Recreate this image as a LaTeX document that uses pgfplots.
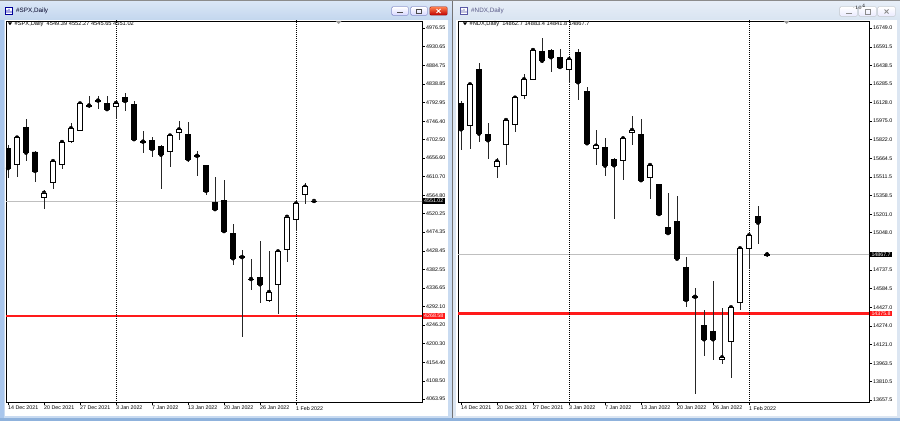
\documentclass[border=0pt]{standalone}
\usepackage{pgfplots}
\pgfplotsset{compat=1.18}
\usepackage{pgfplotstable}
\usepackage{fontspec}
\setmainfont{Liberation Sans}

\definecolor{winL}{HTML}{C9DBF1}
\definecolor{winR}{HTML}{DCE6F2}
\definecolor{titL1}{HTML}{DCE8F7}
\definecolor{titL2}{HTML}{C3D6EE}
\definecolor{titR1}{HTML}{E8EFF8}
\definecolor{titR2}{HTML}{D9E4F1}
\definecolor{edgeL}{HTML}{A9C6EC}
\definecolor{botband}{HTML}{8FB2DC}
\definecolor{mtred}{RGB}{255,26,26}

\newcommand\tk{\fontsize{5.3}{6}\selectfont}
\newcommand\hd{\fontsize{5.7}{6.5}\selectfont}
\newcommand\ttl{\fontsize{6.3}{7}\selectfont}

% SPX daily: bar index, open, high, low, close
\pgfplotstableread{
i o h l c
0 4681 4689 4608 4632
1 4641 4709 4609 4707
2 4732 4752 4650 4670
3 4672 4675 4598 4625
4 4560 4578 4531 4571
5 4597 4652 4580 4649
6 4641 4698 4630 4696
7 4699 4742 4693 4730
8 4724 4795 4723 4791
9 4784 4809 4779 4786
10 4797 4809 4777 4798
11 4792 4809 4775 4777
12 4785 4793 4752 4792
13 4806 4817 4773 4797
14 4788 4798 4702 4703
15 4696 4724 4668 4697
16 4700 4709 4660 4679
17 4686 4688 4580 4665
18 4673 4713 4634 4712
19 4720 4748 4701 4727
20 4715 4745 4648 4654
21 4663 4675 4612 4662
22 4639 4640 4566 4576
23 4548 4611 4530 4531
24 4552 4603 4476 4477
25 4471 4494 4393 4410
26 4414 4430 4217 4413
27 4358 4408 4332 4359
28 4363 4452 4301 4346
29 4306 4427 4303 4327
30 4347 4428 4272 4427
31 4432 4514 4402 4512
32 4506 4553 4478 4545
33 4567 4595 4544 4586
34 4549.39 4552.27 4545.65 4551.02
}\spx

% NDX daily
\pgfplotstableread{
i o h l c
0 16123 16142 15735 15907
1 15943 16294 15741 16281
2 16406 16461 15799 15871
3 15866 15957 15658 15816
4 15596 15666 15500 15641
5 15783 15990 15611 15984
6 15951 16178 15887 16170
7 16190 16364 16157 16323
8 16323 16572 16317 16566
9 16555 16663 16456 16477
10 16564 16572 16386 16506
11 16506 16575 16414 16425
12 16406 16506 16294 16489
13 16544 16572 16151 16298
14 16225 16261 15790 15791
15 15749 15901 15611 15771
16 15760 15832 15519 15605
17 15658 15669 15159 15608
18 15650 15843 15486 15832
19 15882 16018 15773 15901
20 15868 15990 15469 15484
21 15508 15611 15325 15610
22 15451 15452 15187 15203
23 15095 15380 15044 15045
24 15145 15353 14827 14832
25 14760 14843 14433 14489
26 14517 14586 13707 14515
27 14275 14405 14023 14162
28 14225 14646 13990 14162
29 13996 14420 13957 14012
30 14142 14429 13838 14428
31 14472 14919 14405 14918
32 14915 15027 14744 15026
33 15181 15270 14951 15131
34 14862.7 14883.4 14841.8 14867.7
}\ndx

\pgfplotsset{
  mtframe/.style={
    anchor=south west, scale only axis, height=381pt,
    enlargelimits=false, clip=true,
    axis line style={black, line width=0.6pt},
    tick align=outside, major tick length=3pt,
    tick style={black, line width=0.5pt},
    xtick pos=left, ytick pos=right, yticklabel pos=right,
    xtick={0,4,...,32},
    xticklabels={14 Dec 2021,20 Dec 2021,27 Dec 2021,3 Jan 2022,7 Jan 2022,13 Jan 2022,20 Jan 2022,26 Jan 2022,1 Feb 2022},
    xticklabel style={font=\tk, anchor=north west, inner sep=0.5pt, xshift=-0.5pt, yshift=-0.5pt},
    yticklabel style={font=\tk, inner sep=1pt},
  },
  mtbody/.style={
    anchor=south west, scale only axis, height=381pt,
    enlargelimits=false, hide axis, ybar stacked, bar width=5pt,
  },
  wick/.style={only marks, mark=none,
    error bars/.cd, y dir=both, y explicit, error mark=none,
    error bar style={black!85, line width=0.6pt}},
  sep/.style={draw=black, line width=0.5pt, dash pattern=on 1pt off 1pt},
  lvl/.style={draw=mtred, line width=2.4pt},
}

\begin{document}
\begin{tikzpicture}[x=1pt,y=1pt]
\useasboundingbox (0,0) rectangle (900,421);

% window chrome
\fill[winR] (0,0) rectangle (900,421);
\fill[winL] (0,0) rectangle (452,421);
\shade[top color=titL1, bottom color=titL2] (0,401) rectangle (452,421);
\shade[top color=titR1, bottom color=titR2] (453,401) rectangle (900,421);
\fill[edgeL] (0,0) rectangle (4,401);
\fill[white] (5,5) rectangle (448,401);
\fill[white] (456,5) rectangle (897,401);
\fill[black!55] (452.2,0) rectangle (452.8,421);
\fill[black!45] (0,420.4) rectangle (900,421);
\fill[botband] (0,0) rectangle (900,3);

% title icons and captions
\fill[blue!60!black] (5.3,406.3) rectangle (12.7,413.7);
\fill[white] (5.8,406.8) rectangle (12.2,413.2);
\fill[blue!70!black] (6.7,408) rectangle (7.4,411) (8.7,408) rectangle (9.4,412) (10.7,408) rectangle (11.4,410);
\node[anchor=west, font=\ttl, text=black!85!blue, inner sep=0pt] at (16,410) {\#SPX,Daily};
\fill[blue!30!gray] (460.3,406.3) rectangle (467.7,413.7);
\fill[white] (460.8,406.8) rectangle (467.2,413.2);
\fill[blue!30!gray] (461.7,408) rectangle (462.4,411) (463.7,408) rectangle (464.4,412) (465.7,408) rectangle (466.4,410);
\node[anchor=west, font=\ttl, text=black!40!blue!30!gray, inner sep=0pt] at (471,410) {\#NDX,Daily};

% caption buttons, active window
\fill[blue!35!gray, rounded corners=1.2pt] (391.6,405.6) rectangle (408.4,414.4);
\shade[top color=white, bottom color=blue!15, rounded corners=1pt] (392,406) rectangle (408,414);
\fill[black!70] (397,407.9) rectangle (403,408.8);
\fill[blue!35!gray, rounded corners=1.2pt] (410.6,405.6) rectangle (427.4,414.4);
\shade[top color=white, bottom color=blue!15, rounded corners=1pt] (411,406) rectangle (427,414);
\draw[black!70, line width=0.5pt] (416.5,407.5) rectangle (421.5,412);
\fill[red!50!black, rounded corners=1.2pt] (429.6,405.6) rectangle (447.4,414.4);
\shade[top color=red!45!orange!70, bottom color=red!75!black, rounded corners=1pt] (430,406) rectangle (447,414);
\draw[white, line width=0.9pt] (436.5,408) -- (440.5,412) (436.5,412) -- (440.5,408);
% caption buttons, inactive window
\fill[black!30, rounded corners=1.2pt] (839.6,404.6) rectangle (857.4,414.4);
\shade[top color=white, bottom color=blue!8, rounded corners=1pt] (840,405) rectangle (857,414);
\fill[black!45] (845.5,407) rectangle (851.5,407.9);
\fill[black!30, rounded corners=1.2pt] (858.6,404.6) rectangle (876.4,414.4);
\shade[top color=white, bottom color=blue!8, rounded corners=1pt] (859,405) rectangle (876,414);
\draw[black!45, line width=0.5pt] (865,407) rectangle (870,411.5);
\fill[black!30, rounded corners=1.2pt] (877.6,404.6) rectangle (895.4,414.4);
\shade[top color=white, bottom color=blue!8, rounded corners=1pt] (878,405) rectangle (895,414);
\draw[black!45, line width=0.8pt] (884.5,407.5) -- (888.5,411.5) (884.5,411.5) -- (888.5,407.5);

% ---------- SPX ----------
\begin{axis}[mtframe, at={(6pt,19pt)}, width=416pt,
  xmin=-0.222, xmax=46, ymin=4056.5, ymax=4993.8,
  ytick={4063.95,4108.50,4154.40,4200.30,4246.20,4292.10,4336.65,4382.55,4428.45,4474.35,4520.25,4564.80,4610.70,4656.60,4702.50,4746.40,4792.95,4838.85,4884.75,4930.65,4976.55},
  yticklabels={4063.95,4108.50,4154.40,4200.30,4246.20,4292.10,4336.65,4382.55,4428.45,4474.35,4520.25,4564.80,4610.70,4656.60,4702.50,4746.40,4792.95,4838.85,4884.75,4930.65,4976.55},
]
\addplot[draw=black!25, line width=0.6pt] coordinates {(-1,4551.02) (47,4551.02)};
\addplot[lvl] coordinates {(-1,4268.58) (47,4268.58)};
\addplot[sep] coordinates {(12,4000) (12,5000)};
\addplot[sep] coordinates {(32,4000) (32,5000)};
\addplot[wick] table[x=i, y=c, y error plus expr=\thisrow{h}-\thisrow{c}, y error minus expr=\thisrow{c}-\thisrow{l}] \spx;
\coordinate (spxcur) at (axis cs:46,4551.02);
\coordinate (spxred) at (axis cs:46,4268.58);
\end{axis}
\begin{axis}[mtbody, at={(6pt,19pt)}, width=416pt,
  xmin=-0.222, xmax=46, ymin=4056.5, ymax=4993.8]
\addplot[draw=none, fill=none] table[x=i, y expr={min(\thisrow{o},\thisrow{c})}] \spx;
\addplot[draw=black, fill=white, line width=0.6pt] table[x=i, y expr={max(\thisrow{c}-\thisrow{o},0)}] \spx;
\addplot[draw=black, fill=black, line width=0.6pt] table[x=i, y expr={max(\thisrow{o}-\thisrow{c},0)}] \spx;
\end{axis}
\node[fill=black, text=white, font=\tk, inner xsep=1.2pt, inner ysep=1pt, anchor=west] at ([xshift=0.8pt]spxcur) {4551.02};
\node[fill=mtred, text=white, font=\tk, inner xsep=1.2pt, inner ysep=1pt, anchor=west] at ([xshift=0.8pt]spxred) {4268.58};

% ---------- NDX ----------
\begin{axis}[mtframe, at={(458pt,19pt)}, width=411pt,
  xmin=-0.333, xmax=45.33, ymin=13640.9, ymax=16807.2,
  ytick={13657.5,13810.5,13963.5,14121.0,14274.0,14427.0,14584.5,14737.5,15048.0,15201.0,15358.5,15511.5,15664.5,15822.0,15975.0,16128.0,16285.5,16438.5,16591.5,16749.0},
  yticklabels={13657.5,13810.5,13963.5,14121.0,14274.0,14427.0,14584.5,14737.5,15048.0,15201.0,15358.5,15511.5,15664.5,15822.0,15975.0,16128.0,16285.5,16438.5,16591.5,16749.0},
]
\addplot[draw=black!25, line width=0.6pt] coordinates {(-1,14867.7) (47,14867.7)};
\addplot[lvl] coordinates {(-1,14375.8) (47,14375.8)};
\addplot[sep] coordinates {(12,13000) (12,17000)};
\addplot[sep] coordinates {(32,13000) (32,17000)};
\addplot[wick] table[x=i, y=c, y error plus expr=\thisrow{h}-\thisrow{c}, y error minus expr=\thisrow{c}-\thisrow{l}] \ndx;
\coordinate (ndxcur) at (axis cs:45.33,14867.7);
\coordinate (ndxred) at (axis cs:45.33,14375.8);
\end{axis}
\begin{axis}[mtbody, at={(458pt,19pt)}, width=411pt,
  xmin=-0.333, xmax=45.33, ymin=13640.9, ymax=16807.2]
\addplot[draw=none, fill=none] table[x=i, y expr={min(\thisrow{o},\thisrow{c})}] \ndx;
\addplot[draw=black, fill=white, line width=0.6pt] table[x=i, y expr={max(\thisrow{c}-\thisrow{o},0)}] \ndx;
\addplot[draw=black, fill=black, line width=0.6pt] table[x=i, y expr={max(\thisrow{o}-\thisrow{c},0)}] \ndx;
\end{axis}
\node[fill=black, text=white, font=\tk, inner xsep=1.5pt, inner ysep=1pt, anchor=west] at ([xshift=0.8pt]ndxcur) {14867.7};
\node[fill=mtred, text=white, font=\tk, inner xsep=1.5pt, inner ysep=1pt, anchor=west] at ([xshift=0.8pt]ndxred) {14375.8};

% chart headers and shift markers
\fill[black] (8,398.5) -- (12,398.5) -- (10,395.8) -- cycle;
\node[anchor=west, font=\hd, inner sep=0pt] at (14.5,397.3) {\#SPX,Daily\ \ 4549.39 4552.27 4545.65 4551.02};
\fill[black] (463,398.5) -- (467,398.5) -- (465,395.8) -- cycle;
\node[anchor=west, font=\hd, inner sep=0pt] at (469.5,397.3) {\#NDX,Daily\ \ 14862.7 14883.4 14841.8 14867.7};
\fill[black!40] (335.5,400) -- (341.5,400) -- (338.5,397) -- cycle;
\fill[black!40] (783.5,400) -- (789.5,400) -- (786.5,397) -- cycle;
\end{tikzpicture}
\end{document}
